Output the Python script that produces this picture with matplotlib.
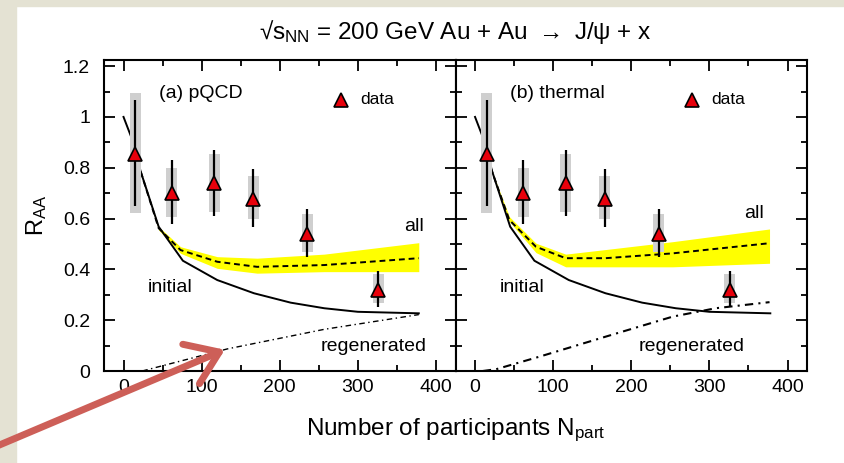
import matplotlib.pyplot as plt
from matplotlib.patches import Rectangle
from matplotlib.ticker import MultipleLocator

plt.rcParams['font.family'] = ['Liberation Sans', 'DejaVu Sans']
plt.rcParams['mathtext.default'] = 'regular'

# PHENIX data points (same in both panels)
npart = [15, 62, 116, 166, 235, 326]
raa = [0.854, 0.70, 0.739, 0.677, 0.538, 0.319]
stat_lo = [0.65, 0.579, 0.61, 0.568, 0.45, 0.253]
stat_hi = [1.067, 0.83, 0.87, 0.795, 0.637, 0.394]
sys_lo = [0.62, 0.607, 0.627, 0.598, 0.47, 0.267]
sys_hi = [1.096, 0.80, 0.854, 0.769, 0.618, 0.38]

# initial production (solid)
init_x = [0, 10, 22, 45, 76, 120, 167, 214, 257, 300, 378]
init_y = [1.0, 0.92, 0.785, 0.568, 0.434, 0.358, 0.306, 0.269, 0.247, 0.233, 0.227]

# (a) pQCD: all (dashed) with yellow band, regenerated (dash-dot)
all_a_x = [22, 45, 73, 120, 171, 257, 378]
all_a_y = [0.785, 0.562, 0.476, 0.43, 0.41, 0.417, 0.444]
band_a_hi = [0.785, 0.568, 0.489, 0.45, 0.444, 0.46, 0.505]
band_a_lo = [0.785, 0.555, 0.463, 0.404, 0.385, 0.391, 0.391]
regen_a_x = [24, 133, 257, 378]
regen_a_y = [0.0, 0.087, 0.164, 0.222]

# (b) thermal
all_b_x = [20, 44, 78, 116, 167, 253, 377]
all_b_y = [0.80, 0.594, 0.489, 0.444, 0.444, 0.463, 0.503]
band_b_hi = [0.80, 0.607, 0.503, 0.46, 0.478, 0.509, 0.559]
band_b_lo = [0.80, 0.588, 0.466, 0.41, 0.41, 0.41, 0.424]
regen_b_x = [10, 27, 82, 167, 253, 308, 377]
regen_b_y = [0.0, 0.007, 0.056, 0.135, 0.214, 0.247, 0.271]

panels = [
    ('(a) pQCD', all_a_x, all_a_y, band_a_lo, band_a_hi, regen_a_x, regen_a_y,
     (359, 0.568), (252, 0.096), 1.0),
    ('(b) thermal', all_b_x, all_b_y, band_b_lo, band_b_hi, regen_b_x, regen_b_y,
     (345, 0.62), (209, 0.096), 1.5),
]

fig = plt.figure(figsize=(8.44, 4.63), dpi=100)
fig.patch.set_facecolor('white')
# beige slide border
fig.add_artist(Rectangle((0, 0), 16 / 844, 1, transform=fig.transFigure,
                         color='#e4e2d3', zorder=0))
fig.add_artist(Rectangle((0, 457 / 463), 1, 6 / 463, transform=fig.transFigure,
                         color='#e4e2d3', zorder=0))

w = 0.4165
axes = [fig.add_axes([0.1232, 0.1987, w, 0.6717]),
        fig.add_axes([0.1232 + w, 0.1987, w, 0.6717])]

for ax, (name, ax_x, ax_y, blo, bhi, rx, ry, all_pos, reg_pos, rlw) in zip(axes, panels):
    ax.fill_between(ax_x, blo, bhi, color='#ffff00', lw=0, zorder=1)
    ax.plot(init_x, init_y, color='black', lw=1.4, zorder=2)
    ax.plot(ax_x, ax_y, color='black', lw=1.4, ls=(0, (3, 2)), zorder=2)
    ax.plot(rx, ry, color='black', lw=rlw, ls=(0, (4, 2.5, 1, 2.5)), zorder=2)
    for x, lo, hi in zip(npart, sys_lo, sys_hi):
        ax.add_patch(Rectangle((x - 7, lo), 14, hi - lo, color='#cfcfcf',
                               lw=0, zorder=3))
    ax.vlines(npart, stat_lo, stat_hi, color='black', lw=1.6, zorder=4)
    ax.plot(npart, raa, ls='none', marker='^', ms=10, mfc='#e8000b',
            mec='black', mew=1.2, zorder=5)

    ax.text(45, 1.094, name, fontsize=14, va='center')
    ax.plot([278], [1.067], ls='none', marker='^', ms=10, mfc='#e8000b',
            mec='black', mew=1.2)
    ax.text(303, 1.067, 'data', fontsize=12.5, va='center')
    ax.text(all_pos[0], all_pos[1], 'all', fontsize=14, va='center')
    ax.text(31, 0.327, 'initial', fontsize=14, va='center')
    ax.text(reg_pos[0], reg_pos[1], 'regenerated', fontsize=14, va='center')

    ax.set_xlim(-25, 425)
    ax.set_ylim(0, 1.224)
    ax.xaxis.set_major_locator(MultipleLocator(100))
    ax.xaxis.set_minor_locator(MultipleLocator(50))
    ax.yaxis.set_major_locator(MultipleLocator(0.2))
    ax.yaxis.set_minor_locator(MultipleLocator(0.1))
    ax.tick_params(which='both', direction='in', top=True, right=True,
                   width=1.3, labelsize=14)
    ax.tick_params(which='major', length=8, pad=6)
    ax.tick_params(which='minor', length=4)
    for s in ax.spines.values():
        s.set_linewidth(1.5)

axes[0].set_yticks([0, 0.2, 0.4, 0.6, 0.8, 1.0, 1.2])
axes[0].set_yticklabels(['0', '0.2', '0.4', '0.6', '0.8', '1', '1.2'])
axes[0].tick_params(axis='y', pad=10)
axes[1].tick_params(labelleft=False)
axes[0].set_ylabel('R$_{AA}$', fontsize=17, labelpad=10)

fig.text(0.54, 0.93, r'√s$_{NN}$ = 200 GeV Au + Au $\rightarrow$ J/ψ + x',
         fontsize=17.5, ha='center', va='center')
fig.text(0.54, 0.071, 'Number of participants N$_{part}$', fontsize=17.5,
         ha='center', va='center')

# red pointer arrow towards the regenerated curve
axes[0].annotate('', xy=(133, 0.088), xycoords='data',
                 xytext=(-10, 14), textcoords='figure pixels',
                 arrowprops=dict(arrowstyle='->, head_length=1.0, head_width=0.7',
                                 color='#cd5f58', lw=5, mutation_scale=22),
                 annotation_clip=False, zorder=10)

fig.savefig('out.png', dpi=100)
